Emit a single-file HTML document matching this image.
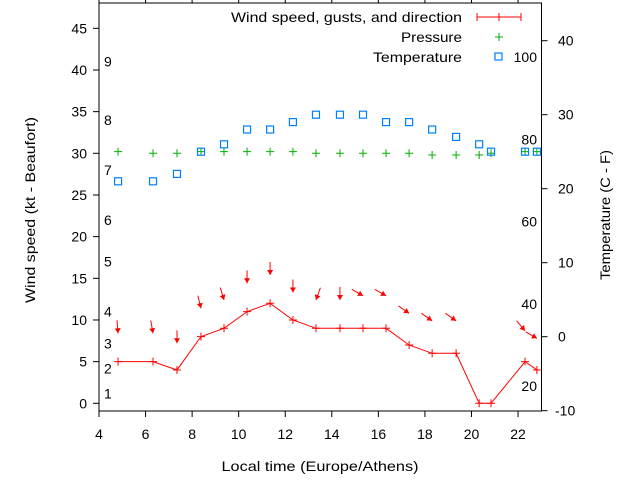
<!DOCTYPE html>
<html><head><meta charset="utf-8"><style>
html,body{margin:0;padding:0;background:#fff;}
svg{display:block;font-family:"Liberation Sans",sans-serif;font-size:14px;}
</style></head><body>
<svg id="chart" width="640" height="480" viewBox="0 0 640 480">
<rect x="0" y="0" width="640" height="480" fill="#fff"/>
<g id="grid"></g>
<g id="marks"></g>
<rect x="99" y="3" width="442.5" height="408" fill="none" stroke="#000" stroke-width="1"/>
<text x="35" y="210" text-anchor="middle" textLength="186" lengthAdjust="spacingAndGlyphs" transform="rotate(-90 35 210)">Wind speed (kt - Beaufort)</text>
<text x="610" y="215" text-anchor="middle" textLength="130" lengthAdjust="spacingAndGlyphs" transform="rotate(-90 610 215)">Temperature (C - F)</text>
<text x="320" y="471" text-anchor="middle" textLength="197" lengthAdjust="spacingAndGlyphs">Local time (Europe/Athens)</text>
<g>
<text x="231" y="22" textLength="231" lengthAdjust="spacingAndGlyphs">Wind speed, gusts, and direction</text>
<g stroke="#f00"><line x1="477" y1="17" x2="521" y2="17"/><line x1="477" y1="13" x2="477" y2="21"/><line x1="521" y1="13" x2="521" y2="21"/><line x1="499" y1="13" x2="499" y2="21"/></g>
<text x="401" y="42" textLength="61" lengthAdjust="spacingAndGlyphs">Pressure</text>
<g stroke="#00b000"><line x1="495" y1="37" x2="503" y2="37"/><line x1="499" y1="33" x2="499" y2="41"/></g>
<text x="373" y="62" textLength="89" lengthAdjust="spacingAndGlyphs">Temperature</text>
<rect x="495" y="53" width="7" height="7" fill="none" stroke="#0080ff" stroke-width="1.2"/>
</g>
</svg>
<script>
const times = [4.82,6.32,7.35,8.38,9.37,10.36,11.35,12.33,13.32,14.35,15.34,16.33,17.32,18.31,19.34,20.33,20.84,22.3,22.81];
const windSpeed = [5,5,4,8,9,11,12,10,9,9,9,9,7,6,6,0,0,5,4];
const gusts = [8.4,8.4,7.2,11.4,12.4,14.4,15.4,13.3,12.4,12.4,12.9,12.9,10.8,9.9,9.9,null,null,8.7,7.8];
const windDir = [355,350,0,346,343,0,0,0,20,0,300,300,305,305,305,null,null,320,300];
const pressure = [30.2,30,30,30.2,30.2,30.2,30.2,30.2,30,30,30,30,30,29.8,29.8,29.8,30,30.2,30.2];
const temperature = [21,21,22,25,26,28,28,29,30,30,30,29,29,28,27,26,25,25,25];
const xTicks = [4,6,8,10,12,14,16,18,20,22];
const yTicks = [0,5,10,15,20,25,30,35,40,45];
const y2Ticks = [-10,0,10,20,30,40];
const fTicks = [20,40,60,80,100];
const beaufort = [1,2,3,4,5,6,7,8,9];
const beaufortKt = [1.2,4.2,7.2,11,17,22,28,34,41];

const NS='http://www.w3.org/2000/svg';
const X0=99,X1=541.5,YT=3,YB=411;
const sx=t=>X0+(t-4)*23.28;
const sy=v=>403.3-v*8.333;
const sy2=c=>336.7-c*7.4;
const g=document.getElementById('marks');
const gg=document.getElementById('grid');
function mk(tag,attrs,parent){const e=document.createElementNS(NS,tag);for(const k in attrs)e.setAttribute(k,attrs[k]);(parent||g).appendChild(e);return e;}

xTicks.forEach(t=>{
 const x=sx(t);
 const a=mk('line',{x1:x,y1:YB,x2:x,y2:YB+6,stroke:'#000'},gg);
 
 
 const b=mk('line',{x1:x,y1:YT,x2:x,y2:YT-6,stroke:'#000'},gg);
 
 
 const l=mk('text',{x:x,y:439,'text-anchor':'middle'},gg);l.textContent=t;
 
 
});
yTicks.forEach(v=>{
 const y=sy(v);
 const a=mk('line',{x1:X0-6,y1:y,x2:X0,y2:y,stroke:'#000'},gg);
 
 
 const l=mk('text',{x:87,y:y+5,'text-anchor':'end'},gg);l.textContent=v;
 
 
});
y2Ticks.forEach(c=>{
 const y=sy2(c);
 const a=mk('line',{x1:X1,y1:y,x2:X1+6,y2:y,stroke:'#000'},gg);
 
 
 const l=mk('text',{x:c<0?555:558,y:y+5,'text-anchor':'start'},gg);l.textContent=c;
 
 
});
fTicks.forEach(f=>{
 const y=sy2((f-32)*5/9);
 const l=mk('text',{x:537,y:y+5,'text-anchor':'end'},gg);l.textContent=f;
 
 
});
beaufort.forEach((b,i)=>{
 const l=mk('text',{x:104,y:sy(beaufortKt[i])+5},gg);l.textContent=b;
 
 
});

const pl=mk('polyline',{points:times.map((t,i)=>sx(t)+','+sy(windSpeed[i])).join(' '),fill:'none',stroke:'#f00','stroke-width':1});


times.forEach((t,i)=>{
 const x=sx(t),y=sy(windSpeed[i]);
 const p=mk('path',{d:`M${x-4},${y}H${x+4}M${x},${y-4}V${y+4}`,stroke:'#f00','stroke-width':1});
 
 
 if(gusts[i]!==null&&windDir[i]!==null){
  const hx=x,hy=sy(gusts[i]);
  const r=windDir[i]*Math.PI/180;
  const dx=-Math.sin(r),dy=Math.cos(r);
  const L=13;
  const tx=hx-dx*L,ty=hy-dy*L;
  const px=-dy,py=dx;
  const bx=hx-dx*5,by=hy-dy*5;
  const ar=mk('g',{});
  
  
  mk('line',{x1:tx,y1:ty,x2:hx,y2:hy,stroke:'#f00','stroke-width':1},ar);
  mk('polygon',{points:`${hx},${hy} ${bx+px*3},${by+py*3} ${bx-px*3},${by-py*3}`,fill:'#f00'},ar);
 }
});
times.forEach((t,i)=>{
 const x=sx(t),y=sy(pressure[i]);
 const p=mk('path',{d:`M${x-4},${y}H${x+4}M${x},${y-4}V${y+4}`,stroke:'#00b000','stroke-width':1});
 
 
});
times.forEach((t,i)=>{
 const x=sx(t),y=sy2(temperature[i]);
 const r=mk('rect',{x:x-3.5,y:y-3.5,width:7,height:7,fill:'none',stroke:'#0080ff','stroke-width':1.2});
 
 
});
</script>
</body></html>
